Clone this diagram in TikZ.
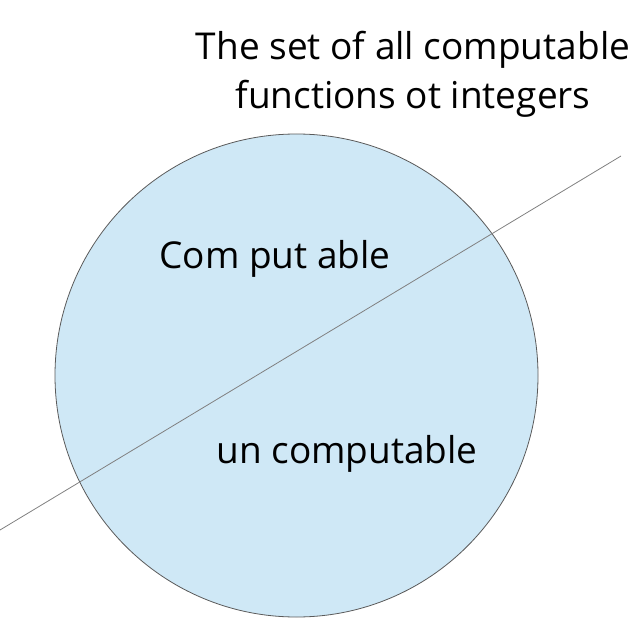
\documentclass[tikz,border=0pt]{standalone}
\usepackage{fontspec}
\setmainfont{Open Sans}
\definecolor{setfill}{HTML}{CFE8F6}
\definecolor{setline}{HTML}{5A5A5A}
\begin{document}
\begin{tikzpicture}[x=1pt,y=-1pt,
  lbl/.style={font=\fontsize{37}{49}\selectfont, text=black, inner sep=0pt, align=center}]
\useasboundingbox (0,0) rectangle (633,644);
\node[circle, draw=setline, line width=0.8pt, fill=setfill, minimum size=483pt, inner sep=0pt] (set) at (296.5,375.5) {};
\coordinate (a) at (0,530);
\coordinate (b) at (621,156);
\draw[gray, line width=0.8pt] (a) -- (b);
\node[lbl] (title) at (413,74) {The set of all computable\\functions ot integers};
\node[lbl] (comp) at (275,259) {Com put able};
\node[lbl] (uncomp) at (347,454) {un computable};
\end{tikzpicture}
\end{document}
